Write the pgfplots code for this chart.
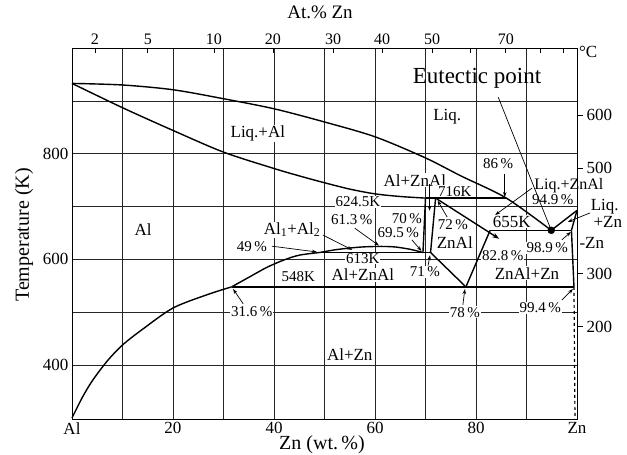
\documentclass[border=0pt]{standalone}
\usepackage{pgfplots}
\pgfplotsset{compat=1.18}
\usepackage{fontspec}
\setmainfont{Liberation Serif}
\usetikzlibrary{arrows.meta}

\newcommand\fs[1]{\fontsize{#1}{#1}\selectfont}

\begin{document}
\begin{tikzpicture}[
  lab/.style={font=\fs{17}, fill=white, inner sep=0.8pt},
  num/.style={font=\fs{15}, fill=white, inner sep=0.8pt},
  nof/.style={font=\fs{15}, inner sep=0.8pt},
  arr/.style={-{Stealth[length=5pt,width=3.5pt]}, line width=0.7pt},
  phase/.style={black, line width=1.4pt},
]
\pgfplotsset{
  base/.style={scale only axis, width=505pt, height=371pt,
    xmin=0, xmax=100, ymin=298, ymax=1000,
    at={(0,0)}, anchor=south west, clip=false,
    /pgf/number format/assume math mode=true,
    ticklabel style={font=\fs{17}},
    tick style={black, line width=0.6pt}},
}
% main axis: wt.% Zn vs temperature (K)
\begin{axis}[base,
  xtick={0,10,...,100}, xticklabels={Al,,20,,40,,60,,80,,Zn},
  ytick={400,500,...,900}, yticklabels={400,,600,,800,},
  major tick length=0pt,
  grid=major, major grid style={black!85, line width=0.6pt},
  axis line style={black, line width=0.8pt},
]
% region and point labels
\node[lab] at (36.8,839) {Liq.+Al};
\node[lab] at (74.3,869.5) {Liq.};
\node[lab] at (14.1,656) {Al};
\node[font=\fs{23}] at (80.2,943) {Eutectic point};
\node[lab] at (67.9,750) {Al+ZnAl};
\node[num] at (75.8,729) {716K};
\node[num] at (56.6,709) {624.5K};
\node[num] at (84.4,782) {86\,\%};
\node[lab, font=\fs{16}, inner sep=0.3pt] at (98.4,739) {Liq.+ZnAl};
\node[nof] at (95.2,714) {94.9\,\%};
\node[lab] at (43.6,656) {Al\textsubscript{1}+Al\textsubscript{2}};
\node[num] at (55.4,675) {61.3\,\%};
\node[num] at (66.3,678) {70\,\%};
\node[num] at (64.6,650) {69.5\,\%};
\node[num] at (75.4,665) {72\,\%};
\node[num] at (35.6,623.5) {49\,\%};
\node[lab] at (75.8,631) {ZnAl};
\node[lab] at (87.1,671) {655K};
\node[num] at (94.1,621.6) {98.9\,\%};
\node[num] at (85.3,608) {82.8\,\%};
\node[num] at (57.6,602) {613K};
\node[num] at (44.8,566.7) {548K};
\node[lab] at (57.6,570.5) {Al+ZnAl};
\node[num] at (69.9,576) {71\,\%};
\node[lab] at (90.1,574) {ZnAl+Zn};
\node[num] at (35.6,502) {31.6\,\%};
\node[num] at (77.8,500) {78\,\%};
\node[num] at (92.7,508) {99.4\,\%};
\node[lab] at (55,419) {Al+Zn};
\node[lab] at (105.5,699) {Liq.};
\node[lab] at (106.1,671) {+Zn};
\node[lab, anchor=west] at (100.3,631) {-Zn};
\node[font=\fs{17}] at (102.2,992) {°C};

% liquidus (Al side)
\addplot[phase, smooth] coordinates {(0,933)(10,930)(20,921)(30,904)(40,885)(50,860)(60,832)(70,792)(77,758)(86,716)(94.9,655)};
% solidus (Al)
\addplot[phase, smooth] coordinates {(0,933)(10,887)(20,844)(30,803)(40,772)(45,758)(50,745)(55,733)(60,724)(65,719)(70,716)};
% Al solvus below 548 K
\addplot[phase, smooth] coordinates {(0,300)(2,338)(4,370)(7,408)(10,438)(14,468)(20,508)(26.7,533)(31.6,548)};
% Al solvus 548-613 K and miscibility gap
\addplot[phase, smooth] coordinates {(31.6,548)(35,566)(38.6,585)(42,599)(45,608)(49,613)};
\addplot[phase, smooth] coordinates {(49,613)(52,618)(55,621.5)(58,623.8)(61.3,624.5)(64,623.5)(67,619)(69.5,613)};
% invariant lines
\addplot[phase] coordinates {(49,613)(71,613)};
\addplot[phase] coordinates {(70,716)(86,716)};
\addplot[phase] coordinates {(31.6,548)(99.4,548)};
\addplot[phase] coordinates {(82.8,655)(98.9,655)};
% Al+ZnAl strip and ZnAl field
\addplot[phase] coordinates {(70,716)(69.5,613)};
\addplot[phase] coordinates {(72,716)(71,613)};
\addplot[phase] coordinates {(71,613)(78,548)};
\addplot[phase] coordinates {(78,548)(82.8,655)};
\addplot[phase, -{Stealth[length=7pt,width=5pt]}] coordinates {(72,716)(84.6,639)};
% Zn side
\addplot[phase] coordinates {(94.9,655)(100,692.7)};
\addplot[phase] coordinates {(98.9,655)(100,692.7)};
\addplot[phase] coordinates {(98.9,655)(99.4,548)};
\addplot[black, line width=1.2pt, dashed] coordinates {(99.4,548)(99.6,298)};
% eutectic point
\addplot[only marks, mark=*, mark size=3.5pt, black] coordinates {(94.9,655)};

% pointers
\draw[line width=0.7pt] (84.4,907) -- (94.9,655);
\draw[arr] (85.7,762) -- (85.7,718);
\draw[arr] (91.1,735) -- (83.8,684);
\draw[arr] (70.8,742) -- (70.8,692);
\draw[arr] (74.3,680) -- (72.4,711);
\draw[arr] (67.3,637) -- (69.2,616);
\draw[arr] (56.0,659) -- (60.8,626);
\draw[arr] (49.7,646) -- (55.5,618);
\draw[arr] (39.6,625) -- (48.5,614);
\draw[arr] (33.9,516) -- (31.9,544);
\draw[arr] (77.4,514) -- (77.8,544);
\draw[arr] (97.0,523) -- (99.2,544);
\draw[arr] (97.0,637) -- (98.8,652);
\draw[arr] (102.6,688) -- (98.2,671);
\draw[arr] (70.5,588) -- (70.9,608);
\end{axis}

% top axis: at.% Zn
\begin{axis}[base, axis x line*=top, axis y line=none,
  xtick={4.55,15.0,28.1,39.8,51.7,61.4,71.3,78.8,85.9,92.7,97.2},
  xticklabels={2,5,10,20,30,40,50,,70,,},
  ticklabel style={font=\fs{16}},
  tick align=inside, major tick length=5pt, ytick=\empty]
\end{axis}

% right axis: degrees C
\begin{axis}[base, axis y line*=right, axis x line=none,
  ytick={473.15,573.15,773.15,873.15}, yticklabels={200,300,500,600},
  tick align=outside, major tick length=6pt, xtick=\empty]
\end{axis}

\node[rotate=90, font=\fs{20}] at (-48pt,184pt) {Temperature (K)};
\node[font=\fs{20}] at (250pt,-26pt) {Zn (wt.\,\%)};
\node[font=\fs{19}] at (248pt,407pt) {At.\% Zn};

\pgfresetboundingbox
\path[use as bounding box] (-72pt,-36pt) rectangle (555pt,419pt);
\end{tikzpicture}
\end{document}
